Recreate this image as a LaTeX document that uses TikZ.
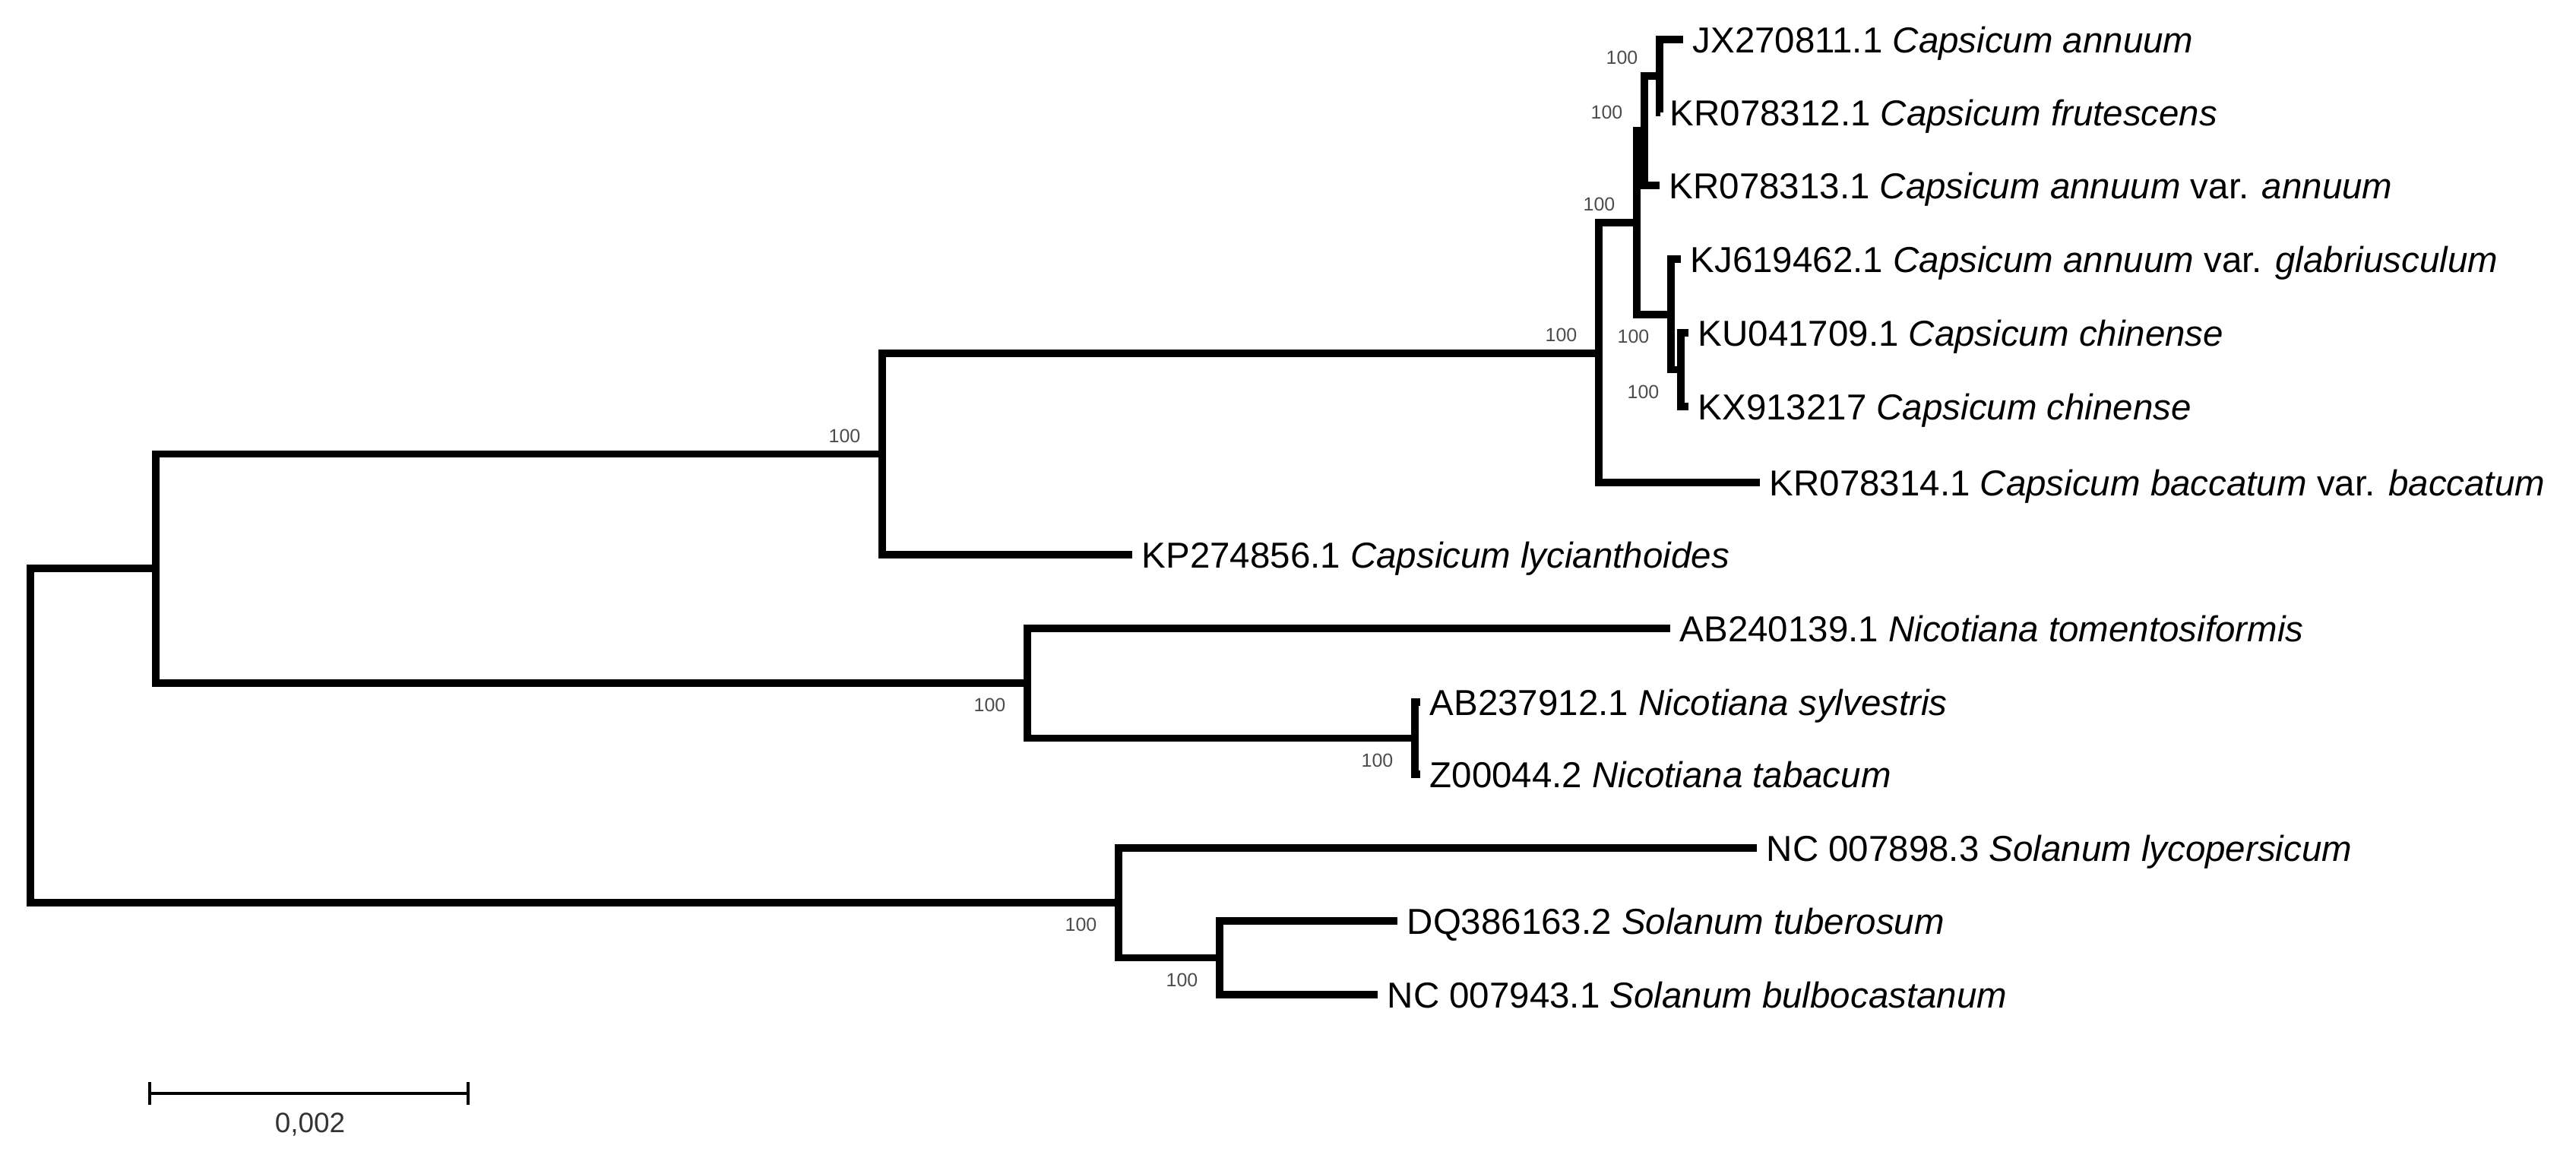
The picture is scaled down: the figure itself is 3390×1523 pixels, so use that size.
\documentclass[tikz,border=0pt]{standalone}
\usepackage{fontspec}
\setmainfont{Liberation Sans}
\begin{document}
\begin{tikzpicture}[x=0.01cm, y=-0.01cm,
  br/.style={line width=2.7pt, line join=miter, line cap=butt},
  lab/.style={anchor=base west, inner sep=0pt, xshift=0.12cm, yshift=-0.17cm, font=\fontsize{13.5pt}{16pt}\selectfont},
  bs/.style={anchor=east, inner sep=0pt, text=black!70, font=\fontsize{7.1pt}{8pt}\selectfont, xshift=-0.28cm},
  bsa/.style={bs, yshift=0.24cm},
  bsb/.style={bs, yshift=-0.29cm},
  sbar/.style={line width=1.15pt, line cap=butt}]
\useasboundingbox (0,0) rectangle (3390,1523);
% leaf tips
\coordinate (l1) at (2215,52);
\coordinate (l2) at (2185,148);
\coordinate (l3) at (2184,244);
\coordinate (l4) at (2212,341);
\coordinate (l5) at (2222,438);
\coordinate (l6) at (2222,535);
\coordinate (l7) at (2316,635);
\coordinate (l8) at (1490,730);
\coordinate (l9) at (2198,827);
\coordinate (l10) at (1869,924);
\coordinate (l11) at (1869,1019);
\coordinate (l12) at (2312,1116);
\coordinate (l13) at (1839,1212);
\coordinate (l14) at (1813,1309);
% internal nodes
\coordinate (E) at (2184,100);
\coordinate (C) at (2164,172);
\coordinate (F) at (2212,486.5);
\coordinate (D) at (2199,414);
\coordinate (B) at (2154,293);
\coordinate (Core) at (2104,465);
\coordinate (Caps) at (1161,597.5);
\coordinate (Pair) at (1862,971.5);
\coordinate (Nic) at (1352,899);
\coordinate (A) at (205,748);
\coordinate (Sub) at (1605,1260.5);
\coordinate (Sol) at (1472,1188);
\coordinate (Root) at (40,968);
% branches
\draw[br] (l1) -- (E |- l1) -- (E |- l2) -- (l2);
\draw[br] (E) -- (C |- E) -- (C |- l3) -- (l3);
\draw[br] (l5) -- (F |- l5) -- (F |- l6) -- (l6);
\draw[br] (l4) -- (D |- l4) -- (D |- F) -- (F);
\draw[br] (C) -- (B |- C) -- (B |- D) -- (D);
\draw[br] (B) -- (Core |- B) -- (Core |- l7) -- (l7);
\draw[br] (Core) -- (Caps |- Core) -- (Caps |- l8) -- (l8);
\draw[br] (l10) -- (Pair |- l10) -- (Pair |- l11) -- (l11);
\draw[br] (l9) -- (Nic |- l9) -- (Nic |- Pair) -- (Pair);
\draw[br] (Caps) -- (A |- Caps) -- (A |- Nic) -- (Nic);
\draw[br] (l13) -- (Sub |- l13) -- (Sub |- l14) -- (l14);
\draw[br] (l12) -- (Sol |- l12) -- (Sol |- Sub) -- (Sub);
\draw[br] (A) -- (Root |- A) -- (Root |- Sol) -- (Sol);
% leaf labels
\node[lab] (t1) at (l1) {JX270811.1 \textit{Capsicum annuum}};
\node[lab] (t2) at (l2) {KR078312.1 \textit{Capsicum frutescens}};
\node[lab] (t3) at (l3) {KR078313.1 \textit{Capsicum annuum} var. \textit{annuum}};
\node[lab] (t4) at (l4) {KJ619462.1 \textit{Capsicum annuum} var. \textit{glabriusculum}};
\node[lab] (t5) at (l5) {KU041709.1 \textit{Capsicum chinense}};
\node[lab] (t6) at (l6) {KX913217 \textit{Capsicum chinense}};
\node[lab] (t7) at (l7) {KR078314.1 \textit{Capsicum baccatum} var. \textit{baccatum}};
\node[lab] (t8) at (l8) {KP274856.1 \textit{Capsicum lycianthoides}};
\node[lab] (t9) at (l9) {AB240139.1 \textit{Nicotiana tomentosiformis}};
\node[lab] (t10) at (l10) {AB237912.1 \textit{Nicotiana sylvestris}};
\node[lab] (t11) at (l11) {Z00044.2 \textit{Nicotiana tabacum}};
\node[lab] (t12) at (l12) {NC 007898.3 \textit{Solanum lycopersicum}};
\node[lab] (t13) at (l13) {DQ386163.2 \textit{Solanum tuberosum}};
\node[lab] (t14) at (l14) {NC 007943.1 \textit{Solanum bulbocastanum}};
% bootstrap values
\node[bsa] (b1) at (E) {100};
\node[bsa] (b2) at (C) {100};
\node[bsa] (b3) at (B) {100};
\node[bsa] (b4) at (Core) {100};
\node[bsb] (b5) at (D) {100};
\node[bsb] (b6) at (F) {100};
\node[bsa] (b7) at (Caps) {100};
\node[bsb] (b8) at (Nic) {100};
\node[bsb] (b9) at (Pair) {100};
\node[bsb] (b10) at (Sol) {100};
\node[bsb] (b11) at (Sub) {100};
% scale bar
\coordinate (s1) at (197,1439);
\coordinate (s2) at (616,1439);
\draw[sbar] (s1) -- (s2);
\draw[sbar] ([yshift=0.15cm]s1) -- ([yshift=-0.15cm]s1);
\draw[sbar] ([yshift=0.15cm]s2) -- ([yshift=-0.15cm]s2);
\node[anchor=base, inner sep=0pt, text=black!80, font=\fontsize{10.5pt}{12pt}\selectfont] (sl) at (408,1490) {0,002};
\end{tikzpicture}
\end{document}
